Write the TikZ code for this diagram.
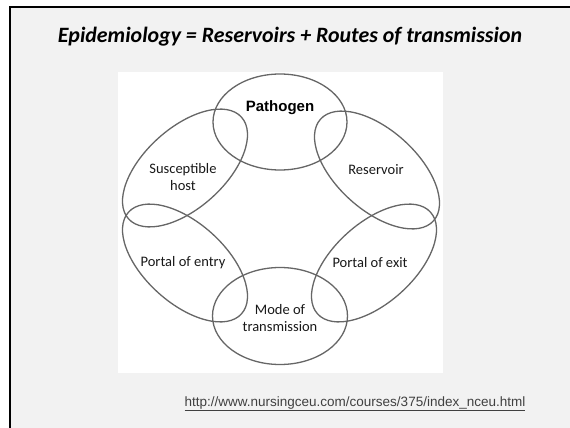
\documentclass[tikz,border=0pt]{standalone}
\usepackage{fontspec}
\setmainfont{Carlito}
\newfontfamily\arialfont{Liberation Sans}
\usetikzlibrary{shapes.geometric}

\begin{document}
\begin{tikzpicture}[x=1pt,y=-1pt,
  ring/.style={ellipse,draw=black!60,line width=1.3pt,inner sep=0pt},
  ring text/.style={font=\fontsize{14.5}{16.5}\selectfont,align=center,text=black!90}]
  \useasboundingbox (0,0) rectangle (570,428);
  \fill[white] (0,0) rectangle (570,428);
  \fill[black!5] (10,7) rectangle (570,428);
  \draw[line width=2pt] (10,428) -- (10,7) -- (570,7);

  \node (title) at (290,37) {\fontsize{21.9}{25}\selectfont\bfseries\itshape Epidemiology = Reservoirs + Routes of transmission};
  \fill[white] (118,72) rectangle (443,373);

  % the six rings of the chain
  \node[ring,minimum width=134pt,minimum height=96pt] (pathogen) at (280,122) {};
  \node[ring,minimum width=152pt,minimum height=80pt,rotate=42] (host) at (185,168) {};
  \node[ring,minimum width=152pt,minimum height=80pt,rotate=-42] (reservoir) at (377,170) {};
  \node[ring,minimum width=152pt,minimum height=80pt,rotate=-42] (entry) at (185,263) {};
  \node[ring,minimum width=152pt,minimum height=80pt,rotate=42] (exit) at (374,263) {};
  \node[ring,minimum width=135pt,minimum height=97pt] (mode) at (280,316) {};

  \node[font=\arialfont\bfseries\fontsize{15}{17}\selectfont] (pathogen text) at (280,108) {Pathogen};
  \node[ring text] (host text) at (183,177) {Susceptible\\host};
  \node[ring text] (reservoir text) at (376,170) {Reservoir};
  \node[ring text] (entry text) at (183,263) {Portal of entry};
  \node[ring text] (exit text) at (370,263) {Portal of exit};
  \node[ring text] (mode text) at (280,318) {Mode of\\transmission};

  \node[font=\arialfont\fontsize{13.5}{15}\selectfont,text=black!75] (source) at (355,404) {\underline{http://www.nursingceu.com/courses/375/index\_nceu.html}};
\end{tikzpicture}
\end{document}
